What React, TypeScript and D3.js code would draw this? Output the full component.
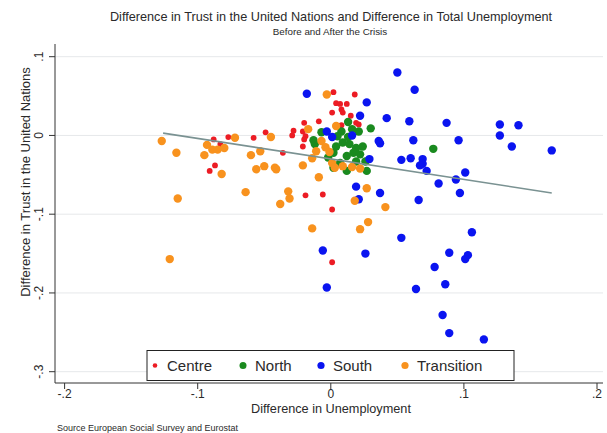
import * as d3 from 'd3';

type Pt = [number, number];

// Difference in unemployment (x) vs difference in trust in the UN (y), by region
const centre: Pt[] = [
  [0.002, 0.055], [0.018, 0.052], [0.004, 0.041], [0.007, 0.040], [0.012, 0.040],
  [0.001, 0.029], [0.008, 0.033], [0.009, 0.029], [0.015, 0.025], [-0.020, 0.016],
  [-0.009, 0.018], [0.019, 0.016], [0.021, 0.014], [0.008, 0.013], [-0.028, 0.006],
  [-0.029, 0.000], [-0.021, 0.005], [-0.019, -0.001], [-0.020, -0.005], [-0.021, -0.014],
  [-0.036, -0.022], [-0.049, 0.004], [-0.058, -0.003], [-0.077, -0.002], [-0.088, -0.005],
  [-0.083, -0.011], [-0.087, -0.038], [-0.091, -0.045], [-0.019, -0.076], [-0.006, -0.075],
  [0.001, -0.094], [0.001, -0.161],
];

const north: Pt[] = [
  [-0.007, 0.004], [-0.012, -0.011], [-0.013, -0.006], [0.013, 0.017], [0.021, 0.005],
  [0.030, 0.009], [0.077, -0.017], [0.004, -0.014], [0.009, -0.009], [0.014, -0.011],
  [0.019, -0.016], [0.024, -0.014], [0.017, -0.022], [0.022, -0.024], [0.012, -0.026],
  [0.026, -0.033], [0.007, -0.035], [0.019, -0.033], [0.027, -0.045], [0.002, -0.041],
  [0.012, -0.045], [-0.002, -0.028], [0.008, 0.005], [0.016, 0.008], [0.005, -0.001],
  [0.013, -0.002], [0.002, -0.022],
];

const south: Pt[] = [
  [-0.018, 0.053], [0.050, 0.080], [0.063, 0.058], [0.027, 0.042], [0.022, 0.025],
  [0.042, 0.022], [0.059, 0.018], [0.087, 0.016], [0.127, 0.014], [0.141, 0.013],
  [0.127, 0.000], [-0.003, 0.005], [0.001, -0.002], [0.016, 0.000], [0.036, -0.007],
  [0.037, -0.010], [0.062, -0.006], [0.096, -0.006], [0.136, -0.014], [0.166, -0.019],
  [0.029, -0.030], [0.053, -0.031], [0.060, -0.029], [0.069, -0.030], [0.069, -0.036],
  [0.067, -0.038], [0.072, -0.045], [0.101, -0.047], [0.094, -0.056], [0.081, -0.061],
  [0.097, -0.073], [0.066, -0.082], [0.037, -0.073], [0.019, -0.065], [0.021, -0.081],
  [0.053, -0.130], [0.106, -0.123], [0.089, -0.149], [0.103, -0.152], [0.101, -0.157],
  [0.078, -0.167], [0.086, -0.189], [0.064, -0.195], [0.084, -0.228], [0.089, -0.251],
  [0.115, -0.259], [-0.006, -0.146], [0.026, -0.150], [-0.003, -0.193],
];

const transition: Pt[] = [
  [-0.003, 0.052], [-0.017, 0.008], [0.004, 0.012], [-0.007, -0.007], [-0.004, -0.015],
  [-0.001, -0.021], [-0.011, -0.020], [-0.014, -0.029], [-0.021, -0.038], [0.001, -0.035],
  [0.003, -0.041], [0.009, -0.039], [0.016, -0.040], [0.022, -0.042], [-0.009, -0.053],
  [0.027, -0.067], [0.018, -0.083], [0.041, -0.091], [0.028, -0.110], [0.022, -0.119],
  [-0.014, -0.118], [-0.032, -0.071], [-0.031, -0.080], [-0.038, -0.087], [-0.064, -0.072],
  [-0.115, -0.080], [-0.121, -0.157], [-0.127, -0.007], [-0.116, -0.022], [-0.095, -0.025],
  [-0.093, -0.012], [-0.089, -0.018], [-0.085, -0.018], [-0.080, -0.016], [-0.082, -0.049],
  [-0.072, -0.003], [-0.045, -0.002], [-0.060, -0.025], [-0.053, -0.020], [-0.056, -0.043],
  [-0.050, -0.039], [-0.042, -0.041], [-0.041, -0.043],
];

// fitted line end points
const fitLine: Pt[] = [[-0.126, 0.003], [0.166, -0.073]];

const xTicks = [-0.2, -0.1, 0, 0.1, 0.2];
const xTickLabels = ['-.2', '-.1', '0', '.1', '.2'];
const yTicks = [0.1, 0, -0.1, -0.2, -0.3];
const yTickLabels = ['.1', '0', '-.1', '-.2', '-.3'];

const groups = [
  { name: 'Centre', color: '#ec1c24', r: 2.9, lr: 2.3, pts: centre },
  { name: 'North', color: '#1a8a1f', r: 4.2, lr: 3.5, pts: north },
  { name: 'South', color: '#0a14f0', r: 4.2, lr: 3.6, pts: south },
  { name: 'Transition', color: '#f8921e', r: 4.2, lr: 3.6, pts: transition },
];
const legendX = [155, 243, 321, 405];

const FONT = '"Liberation Sans", Arial, sans-serif';

export default function App() {
  const W = 607;
  const H = 433;
  const plot = { left: 55, right: 603, top: 44, bottom: 383 };

  const x = d3.scaleLinear().domain([-0.2, 0.2]).range([64.6, 597]);
  const y = d3.scaleLinear().domain([-0.3, 0.1]).range([371.7, 56.7]);

  const line = d3
    .line<Pt>()
    .x((d) => x(d[0]))
    .y((d) => y(d[1]));

  return (
    <div style={{ position: 'absolute', left: 0, top: 0 }}>
      <svg width={W} height={H} style={{ display: 'block', background: '#fff' }} fontFamily={FONT}>
        {/* titles */}
        <text x={331} y={21} textAnchor="middle" fontSize={12.7} fill="#2a2a2a">
          Difference in Trust in the United Nations and Difference in Total Unemployment
        </text>
        <text x={330} y={35} textAnchor="middle" fontSize={9.8} fill="#2a2a2a">
          Before and After the Crisis
        </text>

        {/* gridlines */}
        {yTicks.map((t) => (
          <line
            key={`g-${t}`}
            x1={plot.left}
            x2={plot.right}
            y1={y(t)}
            y2={y(t)}
            stroke="#e6e8ea"
            strokeWidth={1}
          />
        ))}

        {/* points */}
        {groups.map((g) => (
          <g key={g.name}>
            {g.pts.map((p, i) => (
              <circle key={i} cx={x(p[0])} cy={y(p[1])} r={g.r} fill={g.color} />
            ))}
          </g>
        ))}

        {/* fitted line */}
        <path d={line(fitLine) ?? undefined} fill="none" stroke="#7a9292" strokeWidth={1.6} />

        {/* axes */}
        <line x1={plot.left} x2={plot.left} y1={plot.top} y2={plot.bottom} stroke="#333" strokeWidth={1} />
        <line x1={plot.left} x2={plot.right} y1={plot.bottom} y2={plot.bottom} stroke="#333" strokeWidth={1} />
        {yTicks.map((t, i) => (
          <g key={`yt-${t}`}>
            <line x1={plot.left - 6} x2={plot.left} y1={y(t)} y2={y(t)} stroke="#333" strokeWidth={1} />
            <text
              transform={`translate(43, ${y(t)}) rotate(-90)`}
              textAnchor="middle"
              fontSize={12}
              fill="#2a2a2a"
            >
              {yTickLabels[i]}
            </text>
          </g>
        ))}
        {xTicks.map((t, i) => (
          <g key={`xt-${t}`}>
            <line x1={x(t)} x2={x(t)} y1={plot.bottom} y2={plot.bottom + 6} stroke="#333" strokeWidth={1} />
            <text x={x(t)} y={plot.bottom + 15} textAnchor="middle" fontSize={12} fill="#2a2a2a">
              {xTickLabels[i]}
            </text>
          </g>
        ))}

        <text
          transform={`translate(30, 182) rotate(-90)`}
          textAnchor="middle"
          fontSize={13}
          fill="#2a2a2a"
        >
          Difference in Trust in the United Nations
        </text>
        <text x={331} y={413} textAnchor="middle" fontSize={12.7} fill="#2a2a2a">
          Difference in Unemployment
        </text>
        <text x={57} y={431} fontSize={9} fill="#2a2a2a">
          Source  European Social Survey and Eurostat
        </text>

        {/* legend */}
        <rect x={147} y={350.5} width={367} height={30} fill="#fff" stroke="#222" strokeWidth={1} />
        {groups.map((g, i) => (
          <g key={`lg-${g.name}`}>
            <circle cx={legendX[i]} cy={365.5} r={g.lr} fill={g.color} />
            <text x={legendX[i] + 12} y={371} fontSize={15} fill="#2a2a2a">
              {g.name}
            </text>
          </g>
        ))}
      </svg>
    </div>
  );
}
